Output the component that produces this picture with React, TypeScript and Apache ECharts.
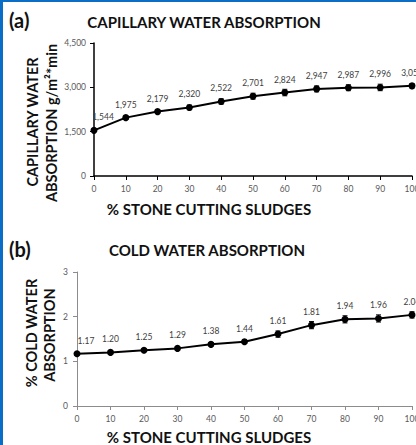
import React, { useEffect, useRef } from "react";
import * as echarts from "echarts";

const xValues = [0, 10, 20, 30, 40, 50, 60, 70, 80, 90, 100];
const capillary = [1544, 1975, 2179, 2320, 2522, 2701, 2824, 2947, 2987, 2996, 3050];
const capillaryErr = [40, 60, 70, 80, 90, 100, 110, 100, 100, 110, 80];
const cold = [1.17, 1.2, 1.25, 1.29, 1.38, 1.44, 1.61, 1.81, 1.94, 1.96, 2.04];
const coldErr = [0.03, 0.03, 0.03, 0.03, 0.04, 0.04, 0.07, 0.08, 0.08, 0.08, 0.07];

const FONT = "Lato";
const BLUE = "#0a6ec6";

function errorSeries(xi: number, values: number[], errs: number[]) {
  return {
    type: "custom",
    xAxisIndex: xi,
    yAxisIndex: xi,
    z: 3,
    data: values.map((v, i) => [xValues[i], v, errs[i]]),
    encode: { x: 0, y: 1 },
    renderItem: (params: any, api: any) => {
      const x = api.value(0);
      const y = api.value(1);
      const e = api.value(2);
      const t = api.coord([x, y + e]);
      const b = api.coord([x, y - e]);
      const w = 2.5;
      const st = { stroke: "#000", lineWidth: 1 };
      return {
        type: "group",
        children: [
          { type: "line", shape: { x1: t[0], y1: t[1], x2: b[0], y2: b[1] }, style: st },
          { type: "line", shape: { x1: t[0] - w, y1: t[1], x2: t[0] + w, y2: t[1] }, style: st },
          { type: "line", shape: { x1: b[0] - w, y1: b[1], x2: b[0] + w, y2: b[1] }, style: st },
        ],
      };
    },
  };
}

function lineSeries(xi: number, values: number[], fmt: (v: number) => string) {
  return {
    type: "line",
    xAxisIndex: xi,
    yAxisIndex: xi,
    z: 4,
    data: values.map((v, i) => ({
      value: [xValues[i], v],
      label: i === 0 ? { offset: [9, 0] } : undefined,
    })),
    symbol: "circle",
    symbolSize: 7,
    itemStyle: { color: "#000" },
    lineStyle: { color: "#000", width: 2 },
    label: {
      show: true,
      position: "top",
      fontSize: 8.5,
      fontFamily: FONT,
      color: "#404040",
      formatter: (p: any) => fmt(p.value[1]),
    },
  };
}

function titleText(text: string, x: number, y: number, size: number, align = "center") {
  return {
    type: "text",
    x,
    y,
    style: {
      text,
      fontSize: size,
      fontWeight: "bold",
      fontFamily: FONT,
      fill: "#111",
      align,
      verticalAlign: "middle",
    },
  };
}

function vText(text: string, x: number, y: number, size: number) {
  return {
    type: "text",
    x,
    y,
    rotation: Math.PI / 2,
    style: {
      text,
      fontSize: size,
      fontWeight: "bold",
      fontFamily: FONT,
      fill: "#111",
      align: "center",
      verticalAlign: "middle",
    },
  };
}

export default function App() {
  const ref = useRef<HTMLDivElement>(null);
  useEffect(() => {
    if (!ref.current) return;
    const chart = echarts.init(ref.current, null, { renderer: "svg" });
    const axisLabel = { fontSize: 8.5, fontFamily: FONT, color: "#595959" };
    chart.setOption({
      animation: false,
      backgroundColor: "#fff",
      grid: [
        { left: 94, right: 4, top: 43, height: 133, outerBoundsMode: "none", containLabel: false },
        { left: 77, right: 4, top: 272, height: 134, outerBoundsMode: "none", containLabel: false },
      ],
      xAxis: [0, 1].map((i) => ({
        type: "value",
        gridIndex: i,
        min: 0,
        max: 100,
        interval: 10,
        splitLine: { show: false },
        axisLine: { lineStyle: { color: i === 0 ? "#000" : "#8c8c8c", width: i === 0 ? 1.5 : 1 } },
        axisTick: { show: true, length: 4, lineStyle: { color: i === 0 ? "#000" : "#8c8c8c" } },
        axisLabel: { ...axisLabel, margin: 8, showMaxLabel: true, showMinLabel: true },
      })),
      yAxis: [
        {
          type: "value",
          gridIndex: 0,
          min: 0,
          max: 4500,
          interval: 1500,
          splitLine: { show: false },
          axisLine: { show: true, lineStyle: { color: "#000", width: 1.5 } },
          axisTick: { show: true, length: 4, lineStyle: { color: "#000" } },
          axisLabel: {
            ...axisLabel,
            margin: 8,
            formatter: (v: number) => v.toLocaleString("en-US"),
          },
        },
        {
          type: "value",
          gridIndex: 1,
          min: 0,
          max: 3,
          interval: 1,
          splitLine: { show: false },
          axisLine: { show: true, lineStyle: { color: "#8c8c8c", width: 1 } },
          axisTick: { show: true, length: 4, lineStyle: { color: "#8c8c8c" } },
          axisLabel: { ...axisLabel, margin: 9 },
        },
      ],
      series: [
        errorSeries(0, capillary, capillaryErr),
        lineSeries(0, capillary, (v) => v.toLocaleString("en-US")),
        errorSeries(1, cold, coldErr),
        lineSeries(1, cold, (v) => v.toFixed(2)),
      ],
      graphic: [
        { type: "rect", shape: { x: 0, y: 0, width: 3, height: 445 }, style: { fill: BLUE } },
        { type: "rect", shape: { x: 0, y: 0, width: 416, height: 2 }, style: { fill: BLUE } },
        titleText("(a)", 9, 20, 20, "left"),
        titleText("CAPILLARY WATER ABSORPTION", 204, 22, 15),
        titleText("% STONE CUTTING SLUDGES", 209, 209, 15),
        vText("CAPILLARY WATER", 32, 122, 14.5),
        vText("ABSORPTION g/m²*min", 51, 123, 14.5),
        titleText("(b)", 9, 249, 20, "left"),
        titleText("COLD WATER ABSORPTION", 207, 250, 15),
        titleText("% STONE CUTTING SLUDGES", 209, 437, 15),
        vText("% COLD WATER", 31, 333, 14.5),
        vText("ABSORPTION", 49, 335, 14.5),
      ],
    });
    return () => chart.dispose();
  }, []);
  return (
    <div
      ref={ref}
      style={{ position: "absolute", left: 0, top: 0, width: 416, height: 445, background: "#fff" }}
    />
  );
}
